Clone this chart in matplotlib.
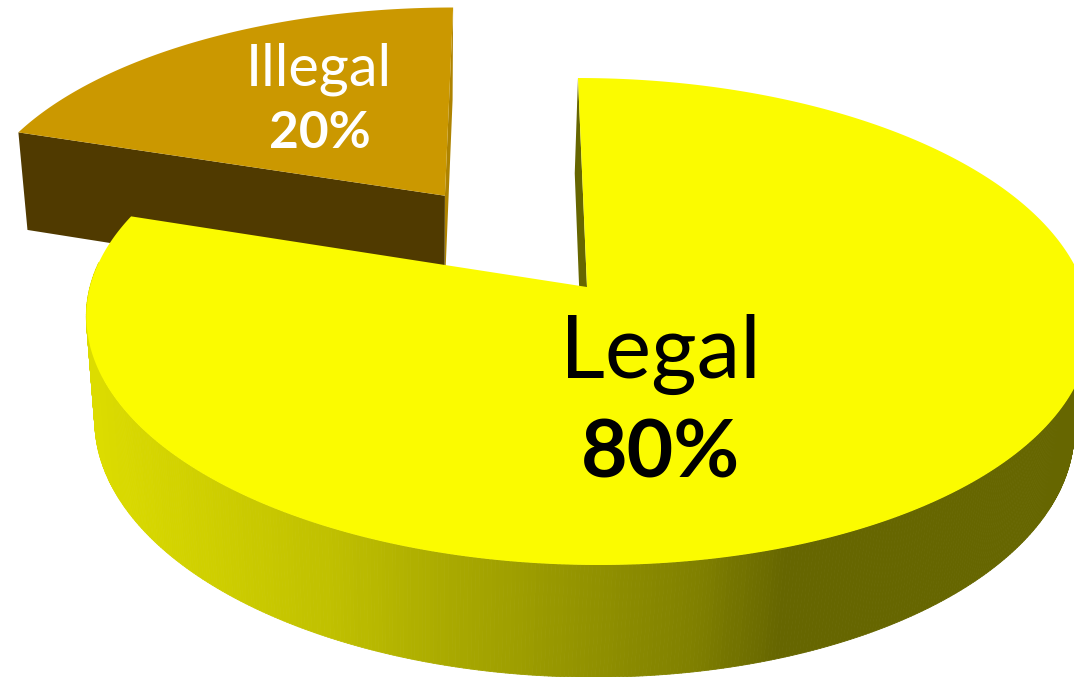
import numpy as np
import matplotlib
matplotlib.use('Agg')
import matplotlib.pyplot as plt
from matplotlib.collections import PolyCollection
from matplotlib.colors import LinearSegmentedColormap, Normalize

# Slice data
labels = ['Legal', 'Illegal']
shares = [80, 20]
top_colors = ['#fbfb00', '#cb9800']
wall_colors = ['#666600', '#503a00']
inner_colors = ['#666600', '#ae8300']
text_colors = ['black', 'white']

# Perspective settings of the pie, in pixels
CX, CY = 587, 287
A, B = 497, 238.6   # radius along screen x and y
C = -10.3           # shear of the far side
D = -4              # sideways drift of the lower face
K = 0.1417          # perspective along the pie plane
M = 0.025           # shrink of the lower face
H = 106             # thickness
EXPLODE = 0.5       # illegal slice pulled out by this share of the radius


def project(u, v, z=0.0):
    w = 1 + K * v + M * z
    return CX + (A * u + C * v + D * z) / w, CY + (-B * v + H * z) / w


def slice_points(start, end, offset=(0, 0), n=240):
    t = np.linspace(start, end, n)
    return np.sin(t) + offset[0], np.cos(t) + offset[1]


def face(us, vs, z=0.0):
    x, y = project(np.asarray(us, dtype=float), np.asarray(vs, dtype=float), z)
    return np.column_stack([x, y])


fig = plt.figure(figsize=(10.74, 6.77), dpi=100)
ax = fig.add_axes([0, 0, 1, 1])
ax.set_xlim(0, 1074)
ax.set_ylim(677, 0)
ax.axis('off')

# Angles run clockwise from twelve o'clock
legal_end = 2 * np.pi * shares[0] / sum(shares)
illegal_mid = (legal_end + 2 * np.pi) / 2
off = (EXPLODE * np.sin(illegal_mid), EXPLODE * np.cos(illegal_mid))

# Illegal slice: two cut faces, then the top
u, v = slice_points(legal_end, 2 * np.pi, off)
right_top = face([off[0], u[-1]], [off[1], v[-1]], 0)
right_low = face([off[0], u[-1]], [off[1], v[-1]], 1)
ax.fill(*np.vstack([right_top, right_low[::-1]]).T, color=inner_colors[1], lw=0)
left_top = face([off[0], u[0]], [off[1], v[0]], 0)
left_low = face([off[0], u[0]], [off[1], v[0]], 1)
ax.fill(*np.vstack([left_top, left_low[::-1]]).T, color=wall_colors[1], lw=0)
ax.fill(*face(np.r_[off[0], u], np.r_[off[1], v]).T, color=top_colors[1], lw=0)

# Legal slice: rim shaded left to right, front part only
shade = LinearSegmentedColormap.from_list('rim', [
    (0.0, '#dcdc00'), (0.11, '#d0d000'), (0.244, '#c0c000'), (0.376, '#a8a800'),
    (0.62, '#808000'), (0.71, '#666600'), (1.0, '#666600')])
norm = Normalize(90, 1074)
u, v = slice_points(0, legal_end, n=720)
rim_top = face(u, v, 0)
rim_low = face(u, v, 1)
quads = [[rim_top[i], rim_top[i + 1], rim_low[i + 1], rim_low[i]]
         for i in range(len(u) - 1) if v[i] < 0.1]
mid_x = np.array([q[0][0] for q in quads])
rim_rgb = shade(norm(mid_x))
ax.add_collection(PolyCollection(quads, facecolors=rim_rgb, edgecolors=rim_rgb, linewidths=0.6))

# Cut face on the twelve o'clock side
cut_top = face([0, u[0]], [0, v[0]], 0)
cut_low = face([0, u[0]], [0, v[0]], 1)
ax.fill(*np.vstack([cut_top, cut_low[::-1]]).T, color=inner_colors[0], lw=0)
ax.fill(*face(np.r_[0, u], np.r_[0, v]).T, color=top_colors[0], lw=0)

# Labels
font = ['Lato', 'DejaVu Sans']
ax.text(660, 378, labels[0], fontsize=63, family=font, color=text_colors[0], ha='center', va='baseline')
ax.text(660, 478, f'{shares[0]}%', fontsize=58, family=font, weight='bold', color=text_colors[0], ha='center', va='baseline')
ax.text(319, 86, labels[1], fontsize=41.5, family=font, color=text_colors[1], ha='center', va='baseline')
ax.text(320, 148, f'{shares[1]}%', fontsize=37, family=font, weight='bold', color=text_colors[1], ha='center', va='baseline')

fig.savefig('out.png', dpi=100)
